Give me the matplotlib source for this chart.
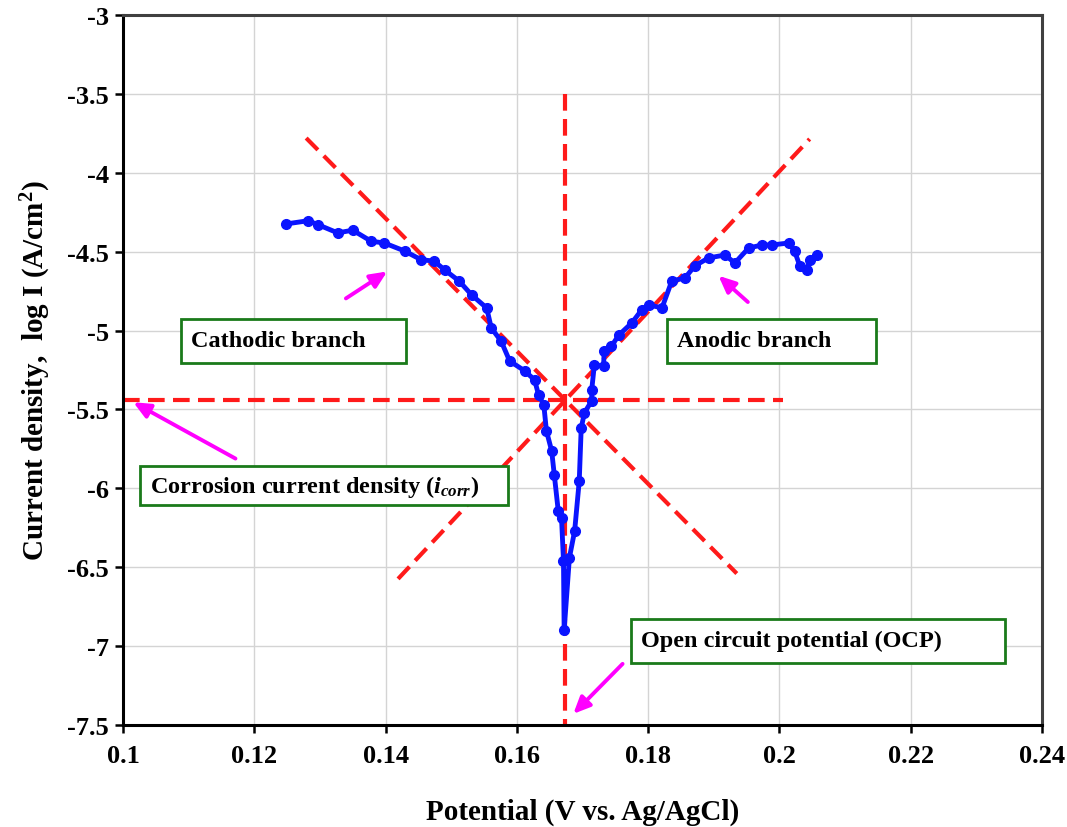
import matplotlib
import matplotlib.pyplot as plt
from matplotlib.patches import Rectangle

matplotlib.use("agg")

plt.rcParams["font.family"] = ["Liberation Serif", "DejaVu Serif"]
plt.rcParams["font.weight"] = "bold"
plt.rcParams["mathtext.fontset"] = "custom"
plt.rcParams["mathtext.rm"] = "Liberation Serif:bold"
plt.rcParams["mathtext.it"] = "Liberation Serif:bold:italic"

# polarization curve, cathodic side then anodic side
potential = [0.1249, 0.1282, 0.1297, 0.1327, 0.1350, 0.1378, 0.1398, 0.1429,
             0.1454, 0.1474, 0.1490, 0.1512, 0.1531, 0.1554, 0.1561, 0.1576,
             0.1589, 0.1612, 0.1627, 0.1633, 0.1641, 0.1645, 0.1653, 0.1657,
             0.1663, 0.1668, 0.1671, 0.1672,
             0.1680, 0.1688, 0.1695, 0.1698, 0.1703, 0.1714, 0.1714, 0.1718,
             0.1732, 0.1733, 0.1744, 0.1755, 0.1775, 0.1790, 0.1802, 0.1821,
             0.1836, 0.1856, 0.1871, 0.1892, 0.1917, 0.1932, 0.1953, 0.1973,
             0.1988, 0.2014, 0.2023, 0.2031, 0.2042, 0.2046, 0.2057]
log_i = [-4.324, -4.304, -4.329, -4.381, -4.364, -4.434, -4.445, -4.496,
         -4.551, -4.560, -4.616, -4.686, -4.774, -4.857, -4.984, -5.067,
         -5.193, -5.256, -5.313, -5.408, -5.471, -5.636, -5.763, -5.915,
         -6.143, -6.188, -6.460, -6.900,
         -6.440, -6.270, -5.953, -5.617, -5.520, -5.446, -5.376, -5.218,
         -5.225, -5.130, -5.100, -5.030, -4.952, -4.870, -4.838, -4.857,
         -4.686, -4.667, -4.590, -4.540, -4.521, -4.572, -4.477, -4.458,
         -4.458, -4.445, -4.496, -4.590, -4.616, -4.553, -4.521]

# Tafel construction lines
ocp_x = [0.1673, 0.1673]
ocp_y = [-3.5, -7.5]
icorr_x = [0.1, 0.2005]
icorr_y = [-5.44, -5.44]
cath_x = [0.1279, 0.1935]
cath_y = [-3.78, -6.54]
anod_x = [0.1419, 0.2046]
anod_y = [-6.574, -3.786]

# labels: (text, box x0, x1, y top, y bottom, text x, text y)
labels = [
    ("Cathodic branch", 0.1088, 0.1431, -4.927, -5.205, 0.1104, -5.066),
    ("Anodic branch", 0.1829, 0.2147, -4.927, -5.205, 0.1844, -5.066),
    ("Corrosion current density ($i_{corr}$)", 0.1026, 0.1587, -5.858, -6.105, 0.1041, -5.985),
    ("Open circuit potential (OCP)", 0.1774, 0.2344, -6.828, -7.107, 0.1789, -6.967),
]

# arrows: (tail x, tail y, head x, head y)
arrows = [
    (0.1336, -4.806, 0.1406, -4.616),
    (0.1955, -4.831, 0.1904, -4.641),
    (0.1175, -5.820, 0.1012, -5.446),
    (0.1764, -7.100, 0.1683, -7.442),
]

fig = plt.figure(figsize=(10.67, 8.28), dpi=100)
ax = fig.add_axes([0.1153, 0.1232, 0.8613, 0.8575])

ax.grid(True, color="#d4d4d4", linewidth=1.0)
ax.set_axisbelow(True)

dash = dict(color="#ff1a1a", linewidth=3, linestyle=(0, (4, 2)))
ax.plot(ocp_x, ocp_y, **dash)
ax.plot(icorr_x, icorr_y, **dash)
ax.plot(cath_x, cath_y, **dash)
ax.plot(anod_x, anod_y, **dash)

ax.plot(potential, log_i, color="#0a14ff", linewidth=3.5, marker="o",
        markersize=7, zorder=3)

for text, x0, x1, yt, yb, tx, ty in labels:
    ax.add_patch(Rectangle((x0, yb), x1 - x0, yt - yb, facecolor="white",
                           edgecolor="#1a7a1a", linewidth=2, zorder=4))
    ax.text(tx, ty, text, fontsize=17.5, fontweight="bold", ha="left",
            va="center", zorder=5)

for tx, ty, hx, hy in arrows:
    ax.annotate("", xy=(hx, hy), xytext=(tx, ty),
                arrowprops=dict(arrowstyle="-|>,head_length=1.0,head_width=0.45",
                                color="#ff00ff", linewidth=2.8), zorder=5)

ax.set_xlim(0.1, 0.24)
ax.set_ylim(-7.5, -3)
ax.set_xticks([0.1, 0.12, 0.14, 0.16, 0.18, 0.2, 0.22, 0.24])
ax.set_xticklabels(["0.1", "0.12", "0.14", "0.16", "0.18", "0.2", "0.22", "0.24"])
ax.set_yticks([-7.5, -7, -6.5, -6, -5.5, -5, -4.5, -4, -3.5, -3])
ax.set_yticklabels(["-7.5", "-7", "-6.5", "-6", "-5.5", "-5", "-4.5", "-4", "-3.5", "-3"])
ax.tick_params(labelsize=19, length=6, width=1.8)
ax.tick_params(axis="x", pad=8)
ax.tick_params(axis="y", pad=4)
for lab in ax.get_xticklabels() + ax.get_yticklabels():
    lab.set_fontweight("bold")

for side in ["left", "bottom"]:
    ax.spines[side].set_linewidth(2.2)
    ax.spines[side].set_color("black")
for side in ["top", "right"]:
    ax.spines[side].set_linewidth(2.2)
    ax.spines[side].set_color("#404040")

ax.set_xlabel("Potential (V vs. Ag/AgCl)", fontsize=21, fontweight="bold", labelpad=22)
ax.set_ylabel("Current density,  log I (A/cm$^2$)", fontsize=21, fontweight="bold",
              labelpad=10)

fig.savefig("out.png", dpi=100)
